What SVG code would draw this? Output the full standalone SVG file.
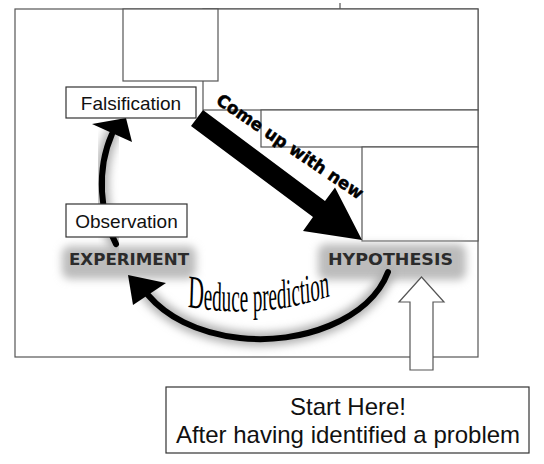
<svg xmlns="http://www.w3.org/2000/svg" width="544" height="464" viewBox="0 0 544 464">
<defs>
<style>
.panel{fill:#fff;stroke:#555;stroke-width:1.2}
.box{fill:#fff;stroke:#333;stroke-width:1.2}
.lbl{font-family:"Liberation Sans",Arial,sans-serif;font-size:19px;fill:#111}
.cap{font-family:"DejaVu Sans",sans-serif;font-weight:bold;font-size:16px;fill:#2b2b2b}
.big{font-family:"Liberation Sans",Arial,sans-serif;font-size:24px;fill:#111}
.glow{fill:#bcbcbc;filter:url(#blur)}
.halo{fill:none;stroke:#b0b0b0;stroke-width:14;stroke-linecap:round;filter:url(#blur)}
.arc{fill:none;stroke:#000;stroke-width:6;stroke-linecap:round}
</style>
<filter id="blur" x="-20%" y="-40%" width="140%" height="180%"><feGaussianBlur stdDeviation="4"/></filter>
</defs>
<rect width="544" height="464" fill="#fff"/>
<g id="frame">
<rect class="panel" x="15" y="9" width="463" height="348"/>
<line x1="340" y1="3" x2="340" y2="9" stroke="#555" stroke-width="1.2"/>
<rect class="panel" x="203" y="9" width="275" height="101"/>
<rect class="panel" x="123" y="9" width="95" height="72"/>
<rect class="panel" x="261" y="110" width="217" height="37"/>
<rect class="panel" x="362" y="147" width="116" height="94"/>
</g>
<g id="glows">
<rect class="glow" x="62" y="246" width="134" height="33" rx="8"/>
<rect class="glow" x="318" y="244" width="148" height="36" rx="8"/>
<path class="halo" d="M116,244 C100,215 96,170 112,134"/>
<path class="halo" d="M388,272 C370,320 300,345 240,338 C195,333 165,315 148,295"/>
</g>
<g id="connectors">
<path class="arc" d="M116,244 C100,215 96,170 112,134"/>
<polygon points="92,124 126,118 132,142" fill="#000"/>
<path class="arc" d="M388,272 C370,320 300,345 240,338 C195,333 165,315 148,295"/>
<polygon points="128,275 166,283 133,305" fill="#000"/>
<polygon points="203,110 325,201 335,187.5 362,240 303,231 313,217 191,126" fill="#000"/>
<polygon points="410,370 410,302 399,302 421.5,277 444,302 433,302 433,370" fill="#fff" stroke="#555" stroke-width="1.2"/>
</g>
<g id="falsification">
<rect class="box" x="66" y="87" width="130" height="31"/>
<text class="lbl" x="131" y="109.5" text-anchor="middle">Falsification</text>
</g>
<g id="observation">
<rect class="box" x="66" y="204" width="121" height="33"/>
<text class="lbl" x="126.5" y="228" text-anchor="middle">Observation</text>
</g>
<g id="experiment">
<text class="cap" x="69" y="265" textLength="120" lengthAdjust="spacingAndGlyphs">EXPERIMENT</text>
</g>
<g id="hypothesis">
<text class="cap" x="328" y="265" textLength="125" lengthAdjust="spacingAndGlyphs">HYPOTHESIS</text>
</g>
<g id="start">
<rect class="box" x="166" y="387" width="363" height="66"/>
<text class="big" x="348" y="415" text-anchor="middle">Start Here!</text>
<text class="big" x="348" y="443" text-anchor="middle">After having identified a problem</text>
</g>
<g id="connector-labels">
<text transform="translate(215,103) rotate(34)" font-family="'DejaVu Sans',sans-serif" font-weight="bold" font-size="17" fill="#000" stroke="#000" stroke-width="0.5" textLength="173" lengthAdjust="spacingAndGlyphs">Come up with new</text>
<g transform="scale(0.466,1)">
<path id="dp" d="M403,307 Q562,320 708,296" fill="none"/>
<text font-family="'Liberation Serif','Times New Roman',serif" font-size="41" fill="#000"><textPath href="#dp"><tspan font-size="47">D</tspan>educe prediction</textPath></text>
</g>
</g>
</svg>
